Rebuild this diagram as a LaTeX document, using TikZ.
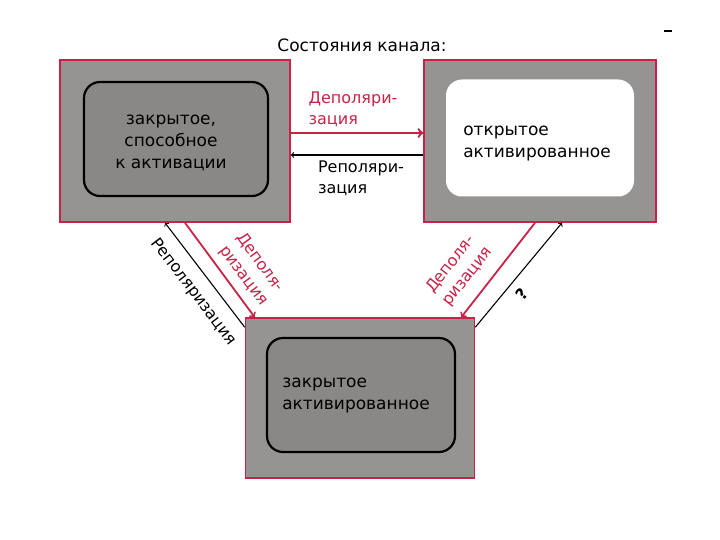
\documentclass[tikz,border=0pt]{standalone}
\usepackage{fontspec}
\setmainfont{DejaVu Sans}
\definecolor{chanred}{RGB}{200,35,70}
\definecolor{mottle}{RGB}{150,147,147}
\tikzset{
    state/.style={draw=chanred, line width=1.6pt, fill=mottle, inner sep=0pt, minimum width=230pt, minimum height=162pt},
    core/.style={draw=black, line width=2.2pt, rounded corners=16pt, fill=mottle!92!black, inner sep=0pt, minimum width=184pt, minimum height=114pt},
    redarrow/.style={->, draw=chanred, line width=1.8pt},
    blackarrow/.style={->, draw=black, line width=1.1pt},
    redlabel/.style={text=chanred, align=left, font=\fontsize{16}{21}\selectfont},
    blacklabel/.style={text=black, align=left, font=\fontsize{16}{21}\selectfont}
}
\begin{document}
    \begin{tikzpicture}[x=1pt, y=-1pt, font=\fontsize{17}{22}\selectfont]
        \useasboundingbox (0,0) rectangle (720,540);
        \node (title) at (362,45) {Состояния канала:};
        \draw[line width=1.5pt] (664,31) -- (672,31);
        \node[state] (closed) at (175,141) {};
        \node[core] (closedin) at (176,139) {};
        \node[align=center] (closedtxt) at (171,143) {закрытое,\\способное\\к активации};
        \node[state, minimum width=232pt] (open) at (540,141) {};
        \node[core, draw=none, fill=white, minimum width=188pt, minimum height=117pt] (openin) at (540,138) {};
        \node[align=left] (opentxt) at (537,144) {открытое\\активированное};
        \node[state, minimum width=229pt, minimum height=160pt] (inactive) at (360,398) {};
        \node[core, minimum width=188pt] (inactivein) at (361,395) {};
        \node[align=left] (inactivetxt) at (356,396) {закрытое\\активированное};
        \draw[redarrow, line width=2.4pt] ([yshift=8pt]closed.east) -- node[redlabel, above=2pt, pos=0.47]{Деполяри-\\зация} ([yshift=8pt]open.west);
        \draw[blackarrow] ([yshift=-14pt]open.west) -- node[blacklabel, below=2pt, pos=0.47]{Реполяри-\\зация} ([yshift=-14pt]closed.east);
        \draw[blackarrow] ([yshift=-10pt]inactive.north west) -- node[blacklabel, sloped, below=8pt, pos=0.45]{Реполяризация} ([xshift=-10pt]closed.south);
        \draw[redarrow] ([xshift=10pt]closed.south) -- node[redlabel, sloped, above=4pt, pos=0.66]{Деполя-\\ризация} ([xshift=10pt]inactive.north west);
        \draw[redarrow] ([xshift=-5pt]open.south) -- node[redlabel, sloped, above=8pt, pos=0.7]{Деполя-\\ризация} ([xshift=-14pt]inactive.north east);
        \draw[blackarrow] ([yshift=-10pt]inactive.north east) -- node[blacklabel, sloped, below=5pt, pos=0.41]{\bfseries ?} ([xshift=22pt]open.south);
    \end{tikzpicture}
\end{document}
